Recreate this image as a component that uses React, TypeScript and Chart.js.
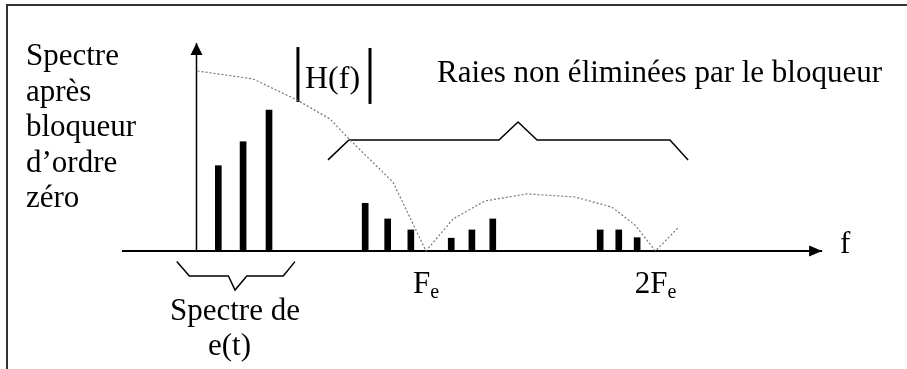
import React, { useEffect, useRef } from "react";
import { Chart, registerables } from "chart.js";

Chart.register(...registerables);

// Frequencies are in units of Fe, amplitudes relative to |H(0)|.
const spectrumFreqs = [0.095, 0.203, 0.316];
const spectrumAmps = [0.474, 0.607, 0.783];

const imageFreqs = [0.735, 0.833, 0.934, 1.11, 1.2, 1.291, 1.759, 1.84, 1.92];
const imageAmps = [0.265, 0.178, 0.117, 0.071, 0.117, 0.178, 0.117, 0.117, 0.074];

const hFreqs = [0.005, 0.246, 0.438, 0.582, 0.669, 0.856, 1.0, 1.118, 1.257, 1.44, 1.649, 1.81, 1.911, 2.0, 2.098];
const hAmps = [1.0, 0.956, 0.839, 0.733, 0.617, 0.383, 0, 0.178, 0.278, 0.317, 0.3, 0.244, 0.144, 0, 0.128];

const braceImagesX = [0.573, 0.664, 1.318, 1.401, 1.484, 2.063, 2.142];
const braceImagesY = [0.506, 0.617, 0.617, 0.717, 0.617, 0.617, 0.506];

const braceSpectrumX = [-0.086, -0.031, 0.139, 0.168, 0.219, 0.378, 0.429];
const braceSpectrumY = [-0.059, -0.139, -0.139, -0.217, -0.139, -0.139, -0.059];

const freqAxisRange = [-0.325, 2.726];
const ampAxisRange = [0, 1.156];

const hLabelBarsX = [0.442, 0.756];
const hLabelBarsLow = [0.828, 0.817];
const hLabelBarsHigh = [1.133, 1.128];

const tickValues = [1, 2];
const tickLabels = ["F", "2F"];
const tickSubscript = "e";

const yAxisTitle = ["Spectre", "après", "bloqueur", "d’ordre", "zéro"];
const imagesTitle = "Raies non éliminées par le bloqueur";
const filterTitle = "H(f)";
const spectrumTitle = ["Spectre de", "e(t)"];
const freqAxisTitle = "f";

const pts = (xs: number[], ys: number[]) => xs.map((x, i) => ({ x, y: ys[i] }));

const SERIF = '"Liberation Serif", "Times New Roman", Times, serif';

const textPlugin = {
  id: "diagramText",
  afterDraw(chart: any) {
    const ctx = chart.ctx;
    const sx = chart.scales.x;
    const sy = chart.scales.y;
    ctx.save();
    ctx.fillStyle = "#000";
    ctx.textBaseline = "alphabetic";
    ctx.textAlign = "left";
    ctx.font = `31px ${SERIF}`;
    yAxisTitle.forEach((t, i) => ctx.fillText(t, 26, 65 + i * 35.5));
    ctx.fillText(imagesTitle, 437, 82);
    ctx.fillText(spectrumTitle[0], 170, 320);
    ctx.fillText(spectrumTitle[1], 208, 355);
    ctx.fillText(freqAxisTitle, 840, 253);
    ctx.font = `32px ${SERIF}`;
    ctx.fillText(filterTitle, 305, 88);

    tickValues.forEach((v, i) => {
      const px = sx.getPixelForValue(v);
      ctx.font = `31px ${SERIF}`;
      const w1 = ctx.measureText(tickLabels[i]).width;
      ctx.font = `20px ${SERIF}`;
      const w2 = ctx.measureText(tickSubscript).width;
      const start = px - (w1 + w2) / 2;
      ctx.font = `31px ${SERIF}`;
      ctx.fillText(tickLabels[i], start, 293);
      ctx.font = `20px ${SERIF}`;
      ctx.fillText(tickSubscript, start + w1, 298);
    });

    // arrow heads
    ctx.fillStyle = "#000";
    const hx = sx.getPixelForValue(freqAxisRange[1]);
    const hy = sy.getPixelForValue(0);
    ctx.beginPath();
    ctx.moveTo(hx, hy);
    ctx.lineTo(hx - 13, hy - 5.5);
    ctx.lineTo(hx - 13, hy + 5.5);
    ctx.closePath();
    ctx.fill();
    const vx = sx.getPixelForValue(0);
    const vy = sy.getPixelForValue(ampAxisRange[1]);
    ctx.beginPath();
    ctx.moveTo(vx, vy);
    ctx.lineTo(vx - 6, vy + 12);
    ctx.lineTo(vx + 6, vy + 12);
    ctx.closePath();
    ctx.fill();
    ctx.restore();
  },
};

const lineDs = (data: any[], color: string, width: number, dash: number[] = []) => ({
  type: "line" as const,
  data,
  borderColor: color,
  borderWidth: width,
  borderDash: dash,
  pointRadius: 0,
  tension: 0,
  fill: false,
  borderCapStyle: "butt" as const,
});

export default function App() {
  const ref = useRef<HTMLCanvasElement | null>(null);

  useEffect(() => {
    if (!ref.current) return;
    const chart = new Chart(ref.current, {
      type: "bar",
      data: {
        datasets: [
          {
            type: "bar",
            data: pts(spectrumFreqs, spectrumAmps),
            backgroundColor: "#000",
            barThickness: 6,
            grouped: false,
          } as any,
          {
            type: "bar",
            data: pts(imageFreqs, imageAmps),
            backgroundColor: "#000",
            barThickness: 6,
            grouped: false,
          } as any,
          lineDs(pts(hFreqs, hAmps), "#777", 1.2, [2, 2]),
          lineDs(pts(braceImagesX, braceImagesY), "#000", 1.5),
          lineDs(pts(braceSpectrumX, braceSpectrumY), "#000", 1.5),
          lineDs(pts(freqAxisRange, [0, 0]), "#000", 2),
          lineDs(pts([0, 0], ampAxisRange), "#000", 1.5),
          lineDs(pts([hLabelBarsX[0], hLabelBarsX[0]], [hLabelBarsLow[0], hLabelBarsHigh[0]]), "#000", 3),
          lineDs(pts([hLabelBarsX[1], hLabelBarsX[1]], [hLabelBarsLow[1], hLabelBarsHigh[1]]), "#000", 3),
        ] as any,
      },
      options: {
        responsive: false,
        animation: false,
        events: [],
        layout: { padding: 0 },
        plugins: { legend: { display: false }, tooltip: { enabled: false }, title: { display: false } },
        scales: {
          x: { type: "linear", min: -0.8562, max: 3.0959, display: false, offset: false },
          y: { type: "linear", min: -0.6556, max: 1.3944, display: false },
        },
      } as any,
      plugins: [textPlugin],
    });
    return () => chart.destroy();
  }, []);

  return (
    <div style={{ position: "fixed", left: 0, top: 0, width: 907, height: 369, background: "#fff" }}>
      <div
        style={{
          position: "absolute",
          left: 6,
          top: 4,
          right: 0,
          bottom: 0,
          borderTop: "2px solid #333",
          borderLeft: "2px solid #333",
        }}
      />
      <canvas ref={ref} width={907} height={369} style={{ position: "absolute", left: 0, top: 0, display: "block" }} />
    </div>
  );
}
